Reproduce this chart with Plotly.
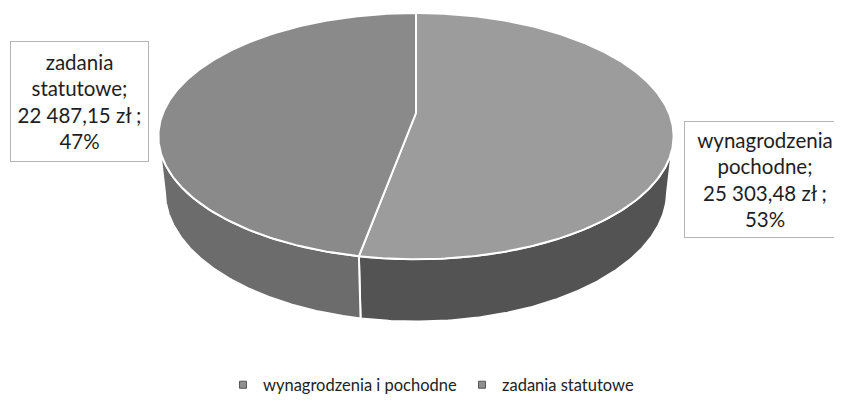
import numpy as np
import plotly.graph_objects as go

# ---- data ----
categories = ["wynagrodzenia i pochodne", "zadania statutowe"]
label_names = ["wynagrodzenia<br>pochodne;", "zadania<br>statutowe;"]
values = [25303.48, 22487.15]
value_labels = ["25 303,48 zł ;", "22 487,15 zł ;"]

# ---- styles ----
top_colors = ["#9c9c9c", "#8a8a8a"]
side_colors = ["#535353", "#6c6c6c"]
legend_colors = ["#8f8f8f", "#8f8f8f"]

W, H = 842, 412
OFF = 8  # page body margin
cx, cy = 416.0, 113.0
alpha = np.radians(28.0)
D = 4.7
f = 100.0 * (D + np.cos(alpha)) / np.sin(alpha)
t = 0.25


def proj(theta, h):
    u = np.sin(theta)
    v = np.cos(theta)
    yc = v * np.sin(alpha) + h * np.cos(alpha)
    zc = D + v * np.cos(alpha) - h * np.sin(alpha)
    return cx + f * u / zc, cy - f * yc / zc


total = float(sum(values))
fracs = [v / total for v in values]
starts = np.concatenate([[0.0], np.cumsum(fracs)[:-1]]) * 2 * np.pi
ends = np.cumsum(fracs) * 2 * np.pi

# silhouette angles (extreme x of top rim)
grid = np.linspace(0, 2 * np.pi, 7201)
gx, _ = proj(grid, 0.0)
th_right = grid[np.argmax(gx)]
th_left = grid[np.argmin(gx)]

fig = go.Figure()

# sides (front visible part only)
for i in range(len(values)):
    a = max(starts[i], th_right)
    b = min(ends[i], th_left)
    if b <= a:
        continue
    th = np.linspace(a, b, 200)
    x1, y1 = proj(th, 0.0)
    x2, y2 = proj(th[::-1], -t)
    xs = np.concatenate([x1, x2, x1[:1]])
    ys = np.concatenate([y1, y2, y1[:1]])
    fig.add_trace(go.Scatter(x=xs, y=ys, mode="lines", fill="toself",
                             fillcolor=side_colors[i],
                             line=dict(color="white", width=2),
                             hoverinfo="skip", showlegend=False))

# top faces
for i in range(len(values)):
    th = np.linspace(starts[i], ends[i], 300)
    x1, y1 = proj(th, 0.0)
    xs = np.concatenate([[cx], x1, [cx]])
    ys = np.concatenate([[cy], y1, [cy]])
    fig.add_trace(go.Scatter(x=xs, y=ys, mode="lines", fill="toself",
                             fillcolor=top_colors[i],
                             line=dict(color="white", width=2),
                             hoverinfo="skip", showlegend=False))

# legend entries
for i, c in enumerate(categories):
    fig.add_trace(go.Scatter(x=[None], y=[None], mode="markers", name=c,
                             marker=dict(symbol="square", size=7,
                                         color=legend_colors[i],
                                         line=dict(color="#555555", width=1))))

# data labels
label_boxes = [
    dict(x=765, y=179.5, w=158, h=113),
    dict(x=79.5, y=101.5, w=135, h=117),
]
for i in range(len(values)):
    pct = f"{round(fracs[i] * 100)}%"
    txt = f"{label_names[i]}<br>{value_labels[i]}<br>{pct}"
    b = label_boxes[i]
    fig.add_annotation(x=b["x"], y=b["y"], xref="x", yref="y", text=txt,
                       showarrow=False, align="center",
                       width=b["w"], height=b["h"],
                       bgcolor="white", bordercolor="#b5b5b5", borderwidth=1,
                       borderpad=1,
                       font=dict(family="Lato", size=20.5, color="#1e1e1e"))

fig.update_layout(
    width=W, height=H,
    margin=dict(l=0, r=0, t=0, b=0),
    paper_bgcolor="white", plot_bgcolor="white",
    xaxis=dict(range=[OFF, W + OFF], visible=False, fixedrange=True),
    yaxis=dict(range=[H + OFF, OFF], visible=False, fixedrange=True),
    showlegend=True,
    legend=dict(orientation="h", x=0.5 + 2 / W, xanchor="center",
                y=1 - (385 - OFF) / H,
                yanchor="middle", font=dict(family="Lato", size=16.5, color="#222222"),
                itemwidth=30, bgcolor="rgba(0,0,0,0)"),
)

fig.write_html("out.html")
